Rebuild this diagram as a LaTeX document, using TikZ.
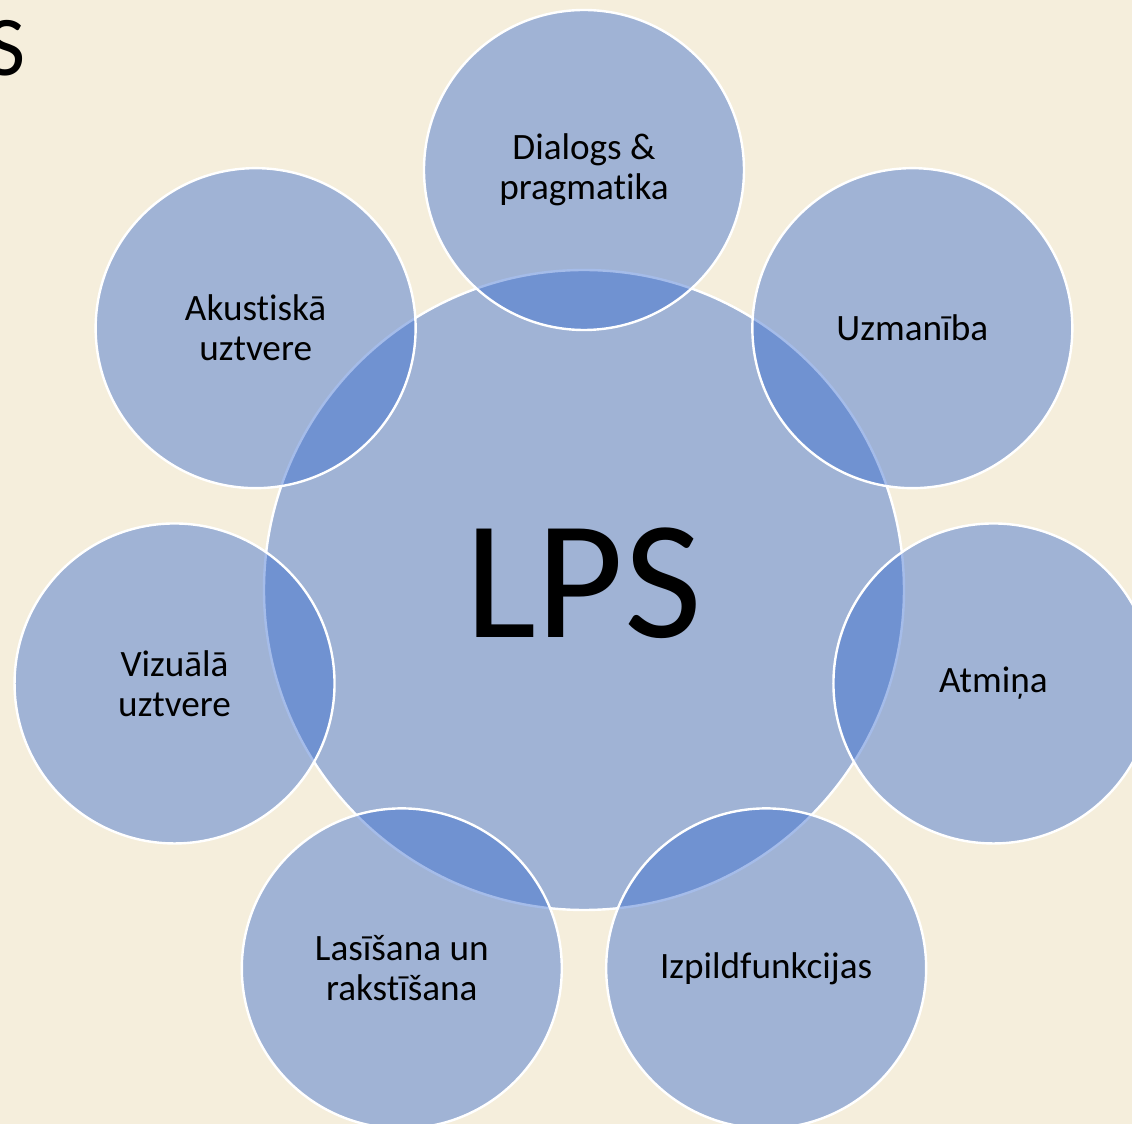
\documentclass[tikz,border=0pt]{standalone}
\usepackage{fontspec}
\setmainfont{Carlito}[Ligatures=CommonOff]
\definecolor{fons}{RGB}{245,238,220}
\definecolor{apliszils}{RGB}{52,104,206}

\begin{document}
\begin{tikzpicture}[x=0.5pt, y=0.5pt,
        aplis/.style={circle, draw=white, line width=1.2pt, fill=apliszils, fill opacity=0.44, text opacity=1, inner sep=0pt, align=center},
        mazs/.style={aplis, minimum size=160pt, font=\fontsize{18.6pt}{20pt}\selectfont},
        liels/.style={aplis, minimum size=320pt, text depth=7pt, font=\fontsize{84.5pt}{90pt}\selectfont}]
        % Fons
        \fill[fons] (-584,-534) rectangle (548,590);
        \useasboundingbox (-584,-534) rectangle (548,590);

        % Virsraksta beigas
        \node[anchor=base east, inner sep=0pt, font=\fontsize{42.5pt}{50pt}\selectfont] (virsraksts) at (-558,514) {S};

        % Centrālais aplis
        \node[liels] (lps) at (0,0) {LPS};

        % Apkārtējie apļi
        \foreach \ang/\nosaukums/\teksts in {90/dialogs/{Dialogs \&\\pragmatika},
                38.57/uzmaniba/{Uzmanība},
                -12.86/atmina/{Atmiņa},
                -64.29/izpilde/{Izpildfunkcijas},
                -115.71/lasisana/{Lasīšana un\\rakstīšana},
                -167.14/vizuala/{Vizuālā\\uztvere},
                141.43/akustiska/{Akustiskā\\uztvere}} {
            \node[mazs] (\nosaukums) at (\ang:420) {\teksts};
        }
\end{tikzpicture}
\end{document}
